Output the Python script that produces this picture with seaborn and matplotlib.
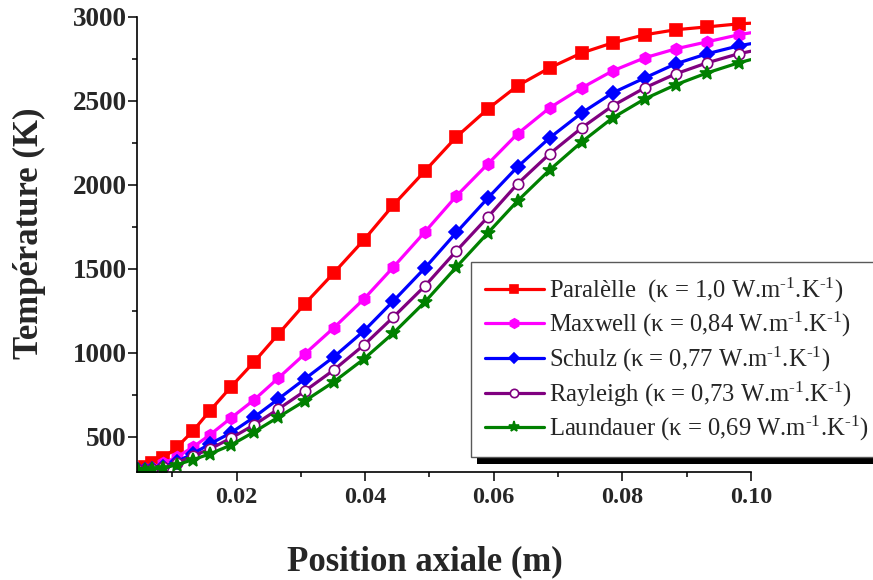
import numpy as np
import pandas as pd
import matplotlib
matplotlib.use("Agg")
import matplotlib.pyplot as plt
import seaborn as sns
from matplotlib.ticker import MultipleLocator, FormatStrFormatter
from matplotlib.patches import Rectangle

# Position axiale (m)
position = [0.0046, 0.0057, 0.0069, 0.0086, 0.0107, 0.0132, 0.0158, 0.0191,
            0.0227, 0.0265, 0.0306, 0.0351, 0.0398, 0.0444, 0.0493, 0.0542,
            0.0591, 0.0637, 0.0687, 0.0737, 0.0785, 0.0835, 0.0883, 0.0932,
            0.0981, 0.1000]

# Température (K) pour chaque modèle
t_parallele = [300, 318, 342, 372, 437, 533, 652, 795, 944, 1111, 1290, 1474,
               1671, 1880, 2082, 2285, 2452, 2589, 2696, 2785, 2845, 2893,
               2923, 2940, 2958, 2962]
t_maxwell = [300, 305, 315, 340, 378, 437, 509, 610, 718, 849, 992, 1147,
             1319, 1510, 1719, 1933, 2124, 2303, 2458, 2577, 2678, 2756,
             2809, 2851, 2893, 2905]
t_schulz = [300, 302, 308, 320, 350, 398, 455, 522, 615, 724, 843, 974,
            1129, 1308, 1504, 1716, 1921, 2106, 2279, 2428, 2547, 2636,
            2720, 2780, 2827, 2840]
t_rayleigh = [300, 302, 306, 316, 342, 385, 425, 490, 569, 664, 771, 896,
              1045, 1212, 1397, 1606, 1808, 2005, 2184, 2339, 2470, 2577,
              2660, 2726, 2780, 2795]
t_laundauer = [300, 301, 305, 312, 332, 362, 396, 449, 527, 616, 712, 825,
               962, 1117, 1302, 1510, 1713, 1903, 2088, 2255, 2398, 2511,
               2595, 2666, 2726, 2745]

sup = "$^{\u2010" + "1}$"
labels = [
    "Paralèlle  (κ = 1,0 W.m" + sup + ".K" + sup + ")",
    "Maxwell (κ = 0,84 W.m" + sup + ".K" + sup + ")",
    "Schulz (κ = 0,77 W.m" + sup + ".K" + sup + ")",
    "Rayleigh (κ = 0,73 W.m" + sup + ".K" + sup + ")",
    "Laundauer (κ = 0,69 W.m" + sup + ".K" + sup + ")",
]

sns.set_style("ticks")
plt.rcParams['font.family'] = ['Liberation Serif', 'DejaVu Serif']
plt.rcParams['mathtext.fontset'] = 'custom'
plt.rcParams['mathtext.rm'] = 'Liberation Serif'
plt.rcParams['mathtext.default'] = 'regular'

fig = plt.figure(figsize=(8.73, 5.8), dpi=100)
ax = fig.add_axes([0.157, 0.186, 0.703, 0.785])

styles = [
    (t_parallele, "#FF0000", "s", 8, "#FF0000"),
    (t_maxwell, "#FF00FF", "h", 8.5, "#FF00FF"),
    (t_schulz, "#0000FF", "D", 7, "#0000FF"),
    (t_rayleigh, "#800080", "o", 7.5, "white"),
    (t_laundauer, "#008000", "*", 10, "#008000"),
]

mk = list(range(len(position) - 1))
for (vals, col, m, ms, fc), lab in zip(styles, labels):
    df = pd.DataFrame({"x": position, "T": vals})
    sns.lineplot(data=df, x="x", y="T", ax=ax, color=col, marker=m,
                 markersize=ms, markerfacecolor=fc, markeredgecolor=col,
                 markeredgewidth=1.2, linewidth=2.3, markevery=mk, label=lab)

ax.set_xlim(0.0045, 0.100)
ax.set_ylim(288, 3000)
ax.xaxis.set_major_locator(MultipleLocator(0.02))
ax.xaxis.set_minor_locator(MultipleLocator(0.01))
ax.xaxis.set_major_formatter(FormatStrFormatter('%.2f'))
ax.yaxis.set_major_locator(MultipleLocator(500))
ax.yaxis.set_minor_locator(MultipleLocator(250))
sns.despine(ax=ax)
for s in ['left', 'bottom']:
    ax.spines[s].set_linewidth(1.2)
    ax.spines[s].set_color('black')
ax.tick_params(which='major', direction='out', length=6.5, width=1.1, color='black')
ax.tick_params(which='minor', direction='out', length=3.5, width=1.1, color='black')
ax.tick_params(axis='y', which='major', pad=1, labelsize=19.5)
ax.tick_params(axis='x', which='major', pad=4, labelsize=17.5)
for t in ax.get_xticklabels() + ax.get_yticklabels():
    t.set_fontweight('bold')

ax.set_xlabel("Position axiale (m)", fontsize=25, fontweight='bold', va='center', ha='center')
ax.set_ylabel("Température (K)", fontsize=25, fontweight='bold', va='center', ha='center')
ax.xaxis.set_label_coords(0.469, -0.196)
ax.yaxis.set_label_coords(-0.175, 0.525)

leg = ax.legend(loc='upper left', bbox_to_anchor=(0.5395, 0.548),
                bbox_transform=fig.transFigure, fontsize=17.75, frameon=True,
                fancybox=False, edgecolor='0.35', framealpha=1,
                handlelength=2.4, handletextpad=0.2, borderpad=0.55,
                labelspacing=0.22, markerscale=0.8, borderaxespad=0)
leg.get_frame().set_linewidth(1.0)
leg.set_zorder(5)

# ombre noire sous la légende
fig.canvas.draw()
bb = leg.get_window_extent().transformed(fig.transFigure.inverted())
dx, dy = 6 / 873, 7 / 580
shadow = Rectangle((bb.x0 + dx, bb.y0 - dy), bb.width, bb.height,
                   transform=fig.transFigure, facecolor='black',
                   edgecolor='none', zorder=4.5, clip_on=False)
ax.add_patch(shadow)

fig.savefig("out.png", dpi=100)
